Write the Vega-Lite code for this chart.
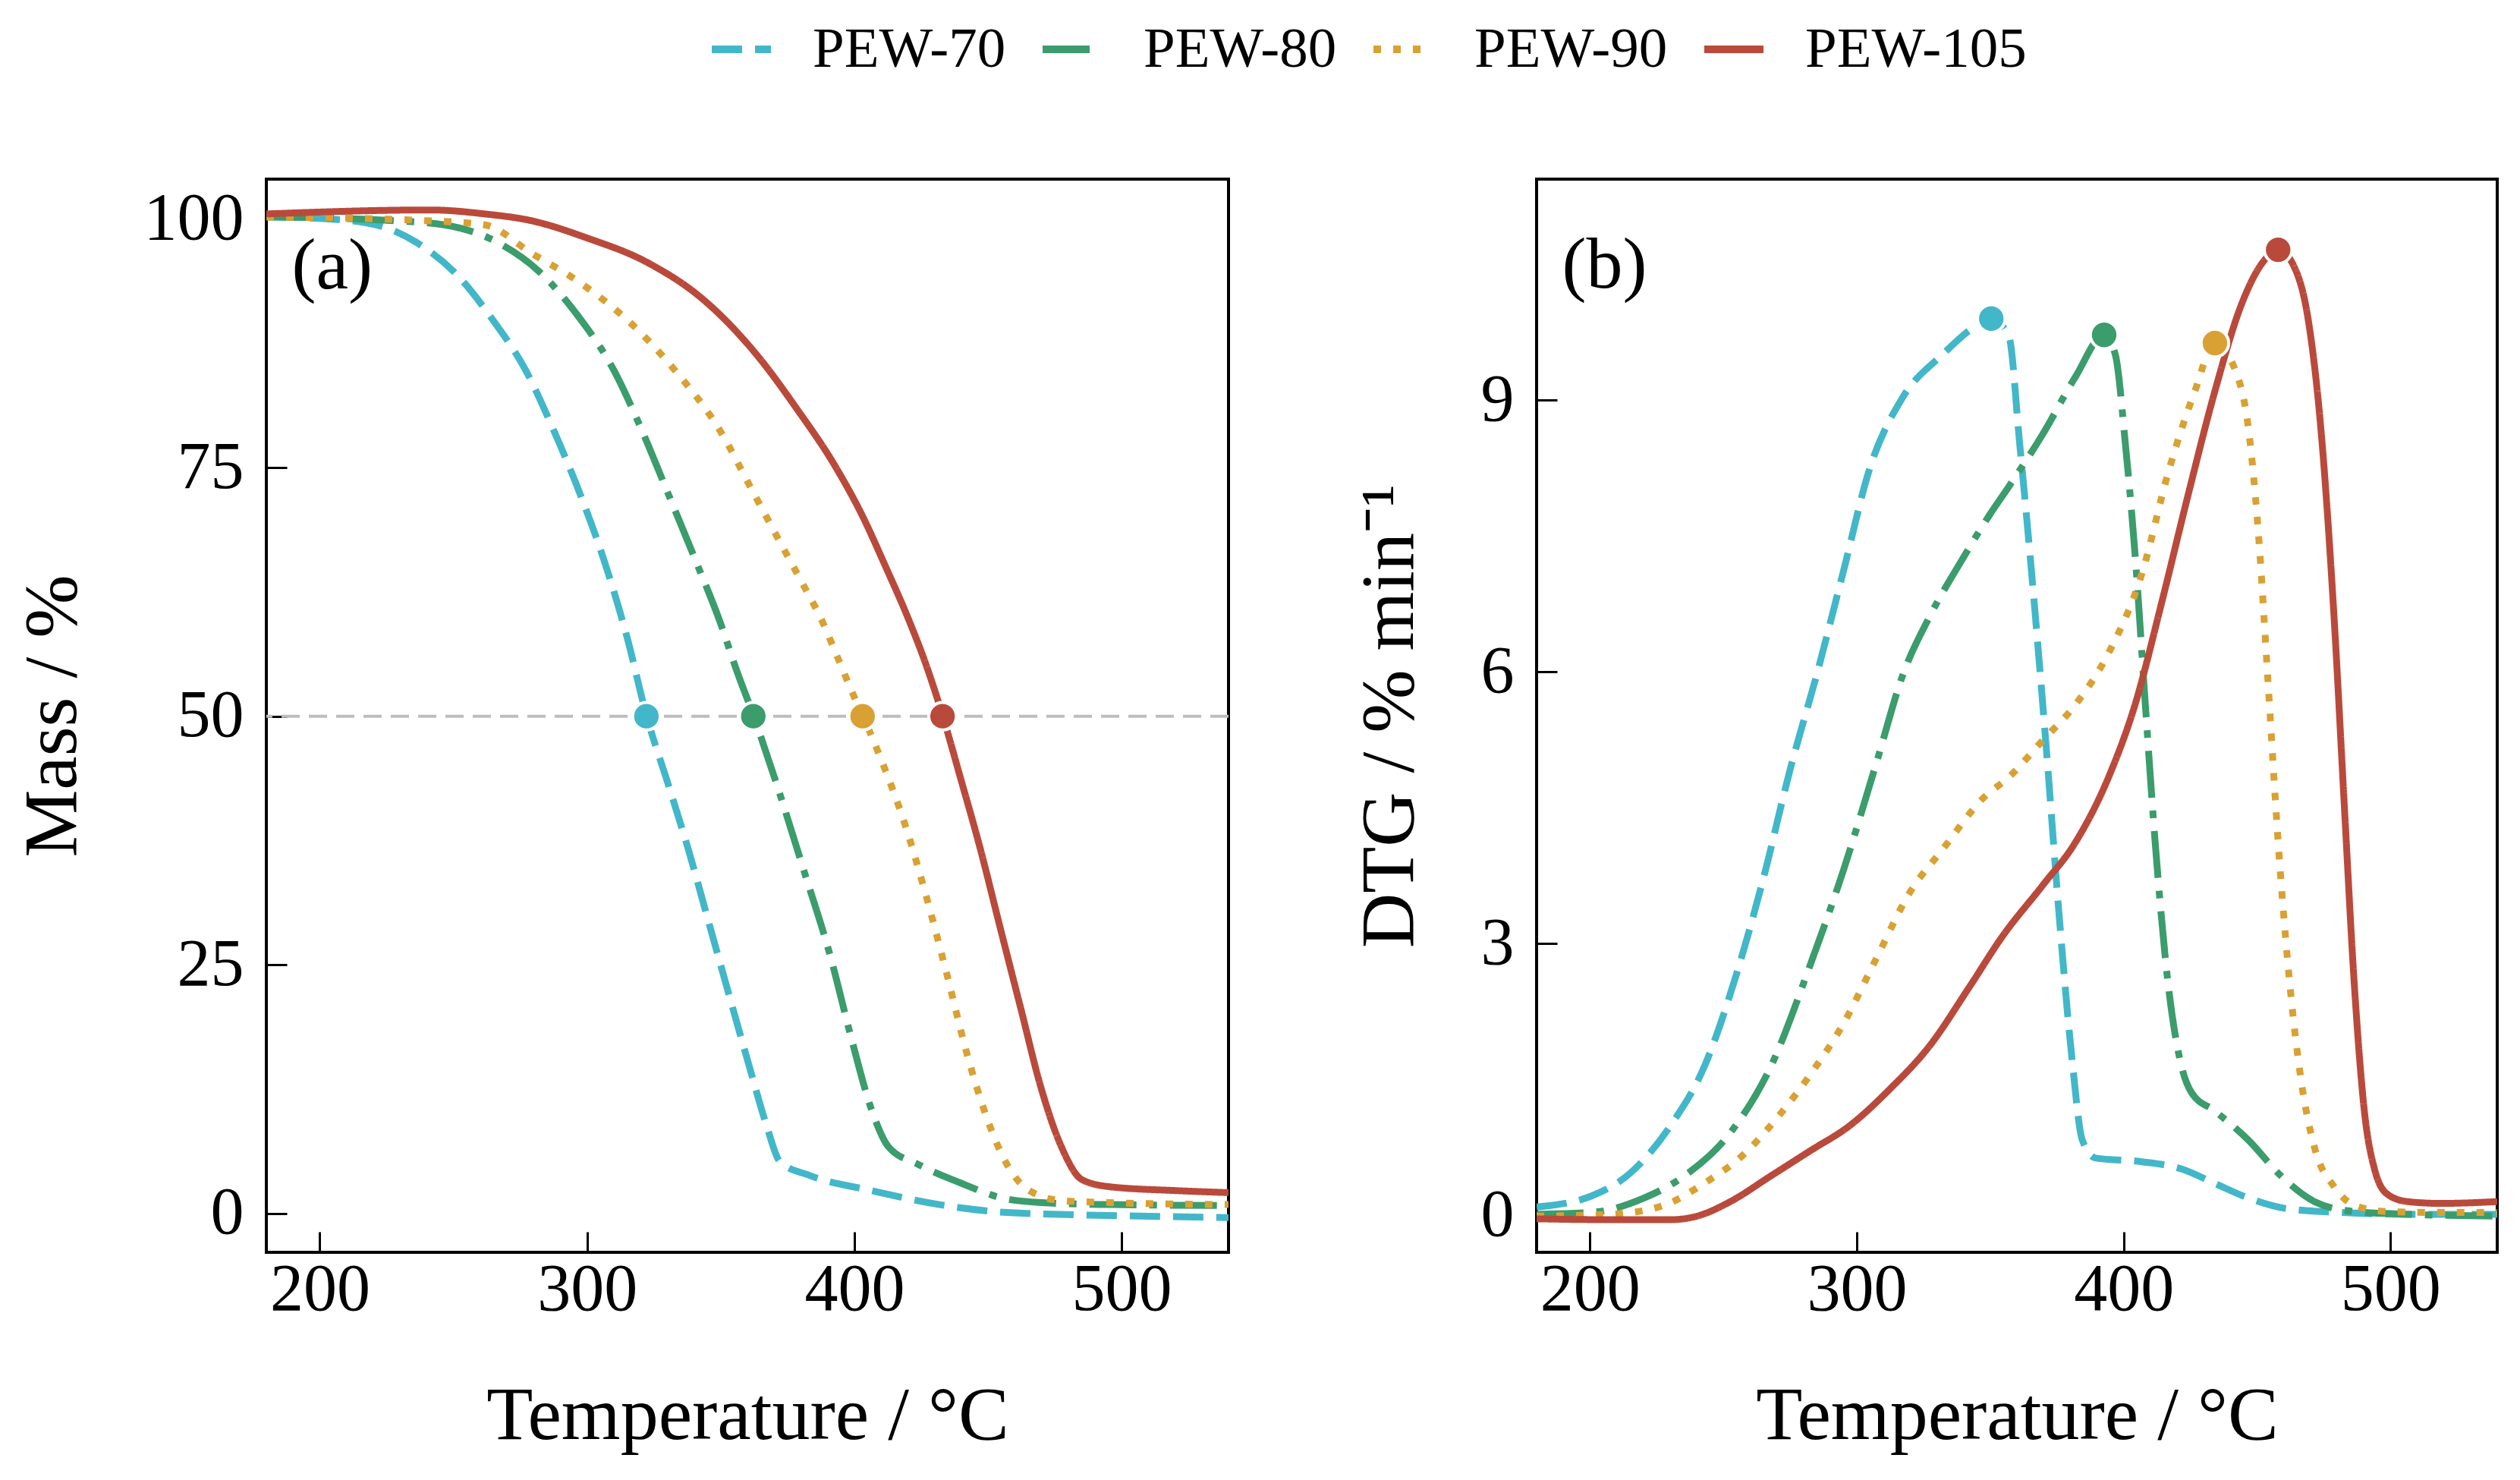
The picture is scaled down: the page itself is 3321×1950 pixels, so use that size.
{
  "$schema": "https://vega.github.io/schema/vega-lite/v6.json",
  "background": "white",
  "padding": {"left": 17, "top": 21, "right": 29, "bottom": 20},
  "config": {
    "font": "Liberation Serif",
    "view": {"stroke": "black", "strokeWidth": 4},
    "axis": {
      "labelFont": "Liberation Serif",
      "titleFont": "Liberation Serif",
      "labelFontSize": 88,
      "titleFontSize": 100,
      "titleFontWeight": "normal",
      "labelColor": "black",
      "titleColor": "black",
      "domain": false,
      "grid": false,
      "tickColor": "black",
      "tickWidth": 3,
      "tickSize": -27,
      "labelFlush": false,
      "labelOverlap": false,
      "format": "d"
    },
    "axisX": {"labelPadding": 32, "titlePadding": 73},
    "axisY": {"labelPadding": 57, "titlePadding": 69},
    "text": {"font": "Liberation Serif"}
  },
  "datasets": {
    "tga": [
      {"sample": "PEW-70", "T": 180, "m": 100.2}, {"sample": "PEW-70", "T": 203.4, "m": 100}, {"sample": "PEW-70", "T": 221.1, "m": 99.4},
      {"sample": "PEW-70", "T": 236.4, "m": 97.6}, {"sample": "PEW-70", "T": 251.6, "m": 94.3}, {"sample": "PEW-70", "T": 264.3, "m": 90},
      {"sample": "PEW-70", "T": 277, "m": 84.8}, {"sample": "PEW-70", "T": 287.1, "m": 79}, {"sample": "PEW-70", "T": 297.3, "m": 72.4},
      {"sample": "PEW-70", "T": 306.2, "m": 65.8}, {"sample": "PEW-70", "T": 315.1, "m": 57.8}, {"sample": "PEW-70", "T": 322.2, "m": 50.1},
      {"sample": "PEW-70", "T": 330.3, "m": 43.2}, {"sample": "PEW-70", "T": 337.9, "m": 36.6}, {"sample": "PEW-70", "T": 345.5, "m": 29.3},
      {"sample": "PEW-70", "T": 353.1, "m": 22}, {"sample": "PEW-70", "T": 360.8, "m": 14.7}, {"sample": "PEW-70", "T": 367.1, "m": 8.9},
      {"sample": "PEW-70", "T": 372.2, "m": 5.2}, {"sample": "PEW-70", "T": 383.6, "m": 3.8}, {"sample": "PEW-70", "T": 406.5, "m": 2.3},
      {"sample": "PEW-70", "T": 431.8, "m": 0.9}, {"sample": "PEW-70", "T": 457.2, "m": 0.1}, {"sample": "PEW-70", "T": 495.3, "m": -0.2},
      {"sample": "PEW-70", "T": 540, "m": -0.4},
      {"sample": "PEW-80", "T": 180, "m": 100.2}, {"sample": "PEW-80", "T": 228.7, "m": 99.8}, {"sample": "PEW-80", "T": 246.5, "m": 99.4},
      {"sample": "PEW-80", "T": 266.8, "m": 97.6}, {"sample": "PEW-80", "T": 282.1, "m": 94.7}, {"sample": "PEW-80", "T": 297.3, "m": 90},
      {"sample": "PEW-80", "T": 310, "m": 84.8}, {"sample": "PEW-80", "T": 320.1, "m": 79}, {"sample": "PEW-80", "T": 330.3, "m": 72.4},
      {"sample": "PEW-80", "T": 340.4, "m": 65.8}, {"sample": "PEW-80", "T": 350, "m": 59.3}, {"sample": "PEW-80", "T": 355.7, "m": 54.8},
      {"sample": "PEW-80", "T": 362.2, "m": 50.1}, {"sample": "PEW-80", "T": 370.9, "m": 43.2}, {"sample": "PEW-80", "T": 381.1, "m": 34.5},
      {"sample": "PEW-80", "T": 391.2, "m": 25.7}, {"sample": "PEW-80", "T": 398.8, "m": 17.7}, {"sample": "PEW-80", "T": 406.5, "m": 10.4},
      {"sample": "PEW-80", "T": 412.8, "m": 6.7}, {"sample": "PEW-80", "T": 424.2, "m": 4.9}, {"sample": "PEW-80", "T": 439.5, "m": 3.1},
      {"sample": "PEW-80", "T": 454.7, "m": 1.6}, {"sample": "PEW-80", "T": 469.9, "m": 1.1}, {"sample": "PEW-80", "T": 495.3, "m": 0.9},
      {"sample": "PEW-80", "T": 540, "m": 0.8},
      {"sample": "PEW-90", "T": 180, "m": 100.2}, {"sample": "PEW-90", "T": 241.4, "m": 99.8}, {"sample": "PEW-90", "T": 261.7, "m": 99.4},
      {"sample": "PEW-90", "T": 279.5, "m": 96.5}, {"sample": "PEW-90", "T": 297.3, "m": 93.6}, {"sample": "PEW-90", "T": 317.6, "m": 89.2},
      {"sample": "PEW-90", "T": 332.8, "m": 84.8}, {"sample": "PEW-90", "T": 350, "m": 78.6}, {"sample": "PEW-90", "T": 361.4, "m": 72.9},
      {"sample": "PEW-90", "T": 372.8, "m": 67.2}, {"sample": "PEW-90", "T": 380.3, "m": 63.5}, {"sample": "PEW-90", "T": 387.9, "m": 59.6},
      {"sample": "PEW-90", "T": 393.6, "m": 56.0}, {"sample": "PEW-90", "T": 400.2, "m": 51.8}, {"sample": "PEW-90", "T": 403.1, "m": 50.1},
      {"sample": "PEW-90", "T": 409.8, "m": 45.8}, {"sample": "PEW-90", "T": 419.1, "m": 39.0},
      {"sample": "PEW-90", "T": 426.8, "m": 32.0}, {"sample": "PEW-90", "T": 434.4, "m": 24.3}, {"sample": "PEW-90", "T": 442, "m": 16.2},
      {"sample": "PEW-90", "T": 449.6, "m": 9.6}, {"sample": "PEW-90", "T": 457.2, "m": 4.9}, {"sample": "PEW-90", "T": 464.9, "m": 2.4},
      {"sample": "PEW-90", "T": 477.5, "m": 1.3}, {"sample": "PEW-90", "T": 495.3, "m": 1.1}, {"sample": "PEW-90", "T": 540, "m": 0.9},
      {"sample": "PEW-105", "T": 180, "m": 100.5}, {"sample": "PEW-105", "T": 241.4, "m": 100.9}, {"sample": "PEW-105", "T": 261.7, "m": 100.5},
      {"sample": "PEW-105", "T": 279.5, "m": 99.8}, {"sample": "PEW-105", "T": 299.8, "m": 98.1}, {"sample": "PEW-105", "T": 322.7, "m": 95.6},
      {"sample": "PEW-105", "T": 343, "m": 92.0}, {"sample": "PEW-105", "T": 364.2, "m": 86.1},
      {"sample": "PEW-105", "T": 378.5, "m": 80.9}, {"sample": "PEW-105", "T": 392.7, "m": 75.2}, {"sample": "PEW-105", "T": 403.1, "m": 70.1},
      {"sample": "PEW-105", "T": 411.6, "m": 65.1}, {"sample": "PEW-105", "T": 420.2, "m": 59.8}, {"sample": "PEW-105", "T": 426.8, "m": 55.2},
      {"sample": "PEW-105", "T": 433, "m": 50.1}, {"sample": "PEW-105", "T": 439.5, "m": 44},
      {"sample": "PEW-105", "T": 447.1, "m": 36.7}, {"sample": "PEW-105", "T": 454.7, "m": 28.6}, {"sample": "PEW-105", "T": 462.3, "m": 20.6},
      {"sample": "PEW-105", "T": 469.9, "m": 12.6}, {"sample": "PEW-105", "T": 477.5, "m": 6.7}, {"sample": "PEW-105", "T": 485.2, "m": 3.4},
      {"sample": "PEW-105", "T": 495.3, "m": 2.7}, {"sample": "PEW-105", "T": 520.7, "m": 2.3}, {"sample": "PEW-105", "T": 540, "m": 2.1}
    ],
    "dtg": [
      {"sample": "PEW-70", "T": 180, "d": 0.09}, {"sample": "PEW-70", "T": 200.4, "d": 0.21}, {"sample": "PEW-70", "T": 215.3, "d": 0.47},
      {"sample": "PEW-70", "T": 230.2, "d": 0.99}, {"sample": "PEW-70", "T": 242.7, "d": 1.63}, {"sample": "PEW-70", "T": 255.1, "d": 2.68},
      {"sample": "PEW-70", "T": 265, "d": 3.72}, {"sample": "PEW-70", "T": 275, "d": 4.92}, {"sample": "PEW-70", "T": 285, "d": 5.97},
      {"sample": "PEW-70", "T": 294.9, "d": 7.1}, {"sample": "PEW-70", "T": 304.9, "d": 8.25}, {"sample": "PEW-70", "T": 317, "d": 9.02},
      {"sample": "PEW-70", "T": 332, "d": 9.5}, {"sample": "PEW-70", "T": 344.7, "d": 9.82}, {"sample": "PEW-70", "T": 350.4, "d": 9.9},
      {"sample": "PEW-70", "T": 357, "d": 9.7}, {"sample": "PEW-70", "T": 361, "d": 8.53}, {"sample": "PEW-70", "T": 366, "d": 6.93},
      {"sample": "PEW-70", "T": 371, "d": 5.16}, {"sample": "PEW-70", "T": 375.8, "d": 3.32}, {"sample": "PEW-70", "T": 380.7, "d": 1.71},
      {"sample": "PEW-70", "T": 384.5, "d": 0.83}, {"sample": "PEW-70", "T": 389.5, "d": 0.63}, {"sample": "PEW-70", "T": 406.9, "d": 0.59},
      {"sample": "PEW-70", "T": 421.8, "d": 0.51}, {"sample": "PEW-70", "T": 434.2, "d": 0.35}, {"sample": "PEW-70", "T": 446.7, "d": 0.19},
      {"sample": "PEW-70", "T": 461.6, "d": 0.07}, {"sample": "PEW-70", "T": 481.5, "d": 0.03}, {"sample": "PEW-70", "T": 506.4, "d": 0.01},
      {"sample": "PEW-70", "T": 540, "d": 0.01},
      {"sample": "PEW-80", "T": 180, "d": 0.01}, {"sample": "PEW-80", "T": 200.4, "d": 0.03}, {"sample": "PEW-80", "T": 220.3, "d": 0.19},
      {"sample": "PEW-80", "T": 235.2, "d": 0.43}, {"sample": "PEW-80", "T": 252.6, "d": 0.91}, {"sample": "PEW-80", "T": 267.6, "d": 1.63},
      {"sample": "PEW-80", "T": 282.5, "d": 2.76}, {"sample": "PEW-80", "T": 294.9, "d": 3.8}, {"sample": "PEW-80", "T": 307.4, "d": 5.0},
      {"sample": "PEW-80", "T": 317.3, "d": 5.97}, {"sample": "PEW-80", "T": 327.3, "d": 6.61}, {"sample": "PEW-80", "T": 339.7, "d": 7.25},
      {"sample": "PEW-80", "T": 349.7, "d": 7.73}, {"sample": "PEW-80", "T": 357.1, "d": 8.05}, {"sample": "PEW-80", "T": 369.6, "d": 8.62},
      {"sample": "PEW-80", "T": 382, "d": 9.26}, {"sample": "PEW-80", "T": 392.7, "d": 9.72}, {"sample": "PEW-80", "T": 396.9, "d": 9.5},
      {"sample": "PEW-80", "T": 400.6, "d": 8.53}, {"sample": "PEW-80", "T": 404.4, "d": 7.25}, {"sample": "PEW-80", "T": 408.1, "d": 5.65},
      {"sample": "PEW-80", "T": 411.8, "d": 4.12}, {"sample": "PEW-80", "T": 416.8, "d": 2.52}, {"sample": "PEW-80", "T": 421.8, "d": 1.63},
      {"sample": "PEW-80", "T": 425.5, "d": 1.35}, {"sample": "PEW-80", "T": 434.2, "d": 1.15}, {"sample": "PEW-80", "T": 446.7, "d": 0.83},
      {"sample": "PEW-80", "T": 459.1, "d": 0.43}, {"sample": "PEW-80", "T": 471.5, "d": 0.15}, {"sample": "PEW-80", "T": 486.5, "d": 0.04},
      {"sample": "PEW-80", "T": 506.4, "d": 0.01}, {"sample": "PEW-80", "T": 540, "d": -0.01},
      {"sample": "PEW-90", "T": 180, "d": -0.01}, {"sample": "PEW-90", "T": 207.9, "d": 0.01}, {"sample": "PEW-90", "T": 227.8, "d": 0.11},
      {"sample": "PEW-90", "T": 242.7, "d": 0.35}, {"sample": "PEW-90", "T": 257.6, "d": 0.67}, {"sample": "PEW-90", "T": 270, "d": 1.07},
      {"sample": "PEW-90", "T": 282.5, "d": 1.55}, {"sample": "PEW-90", "T": 294.9, "d": 2.11}, {"sample": "PEW-90", "T": 307.4, "d": 2.84},
      {"sample": "PEW-90", "T": 319.8, "d": 3.56}, {"sample": "PEW-90", "T": 332.2, "d": 4.04}, {"sample": "PEW-90", "T": 347.2, "d": 4.6},
      {"sample": "PEW-90", "T": 357.1, "d": 4.84}, {"sample": "PEW-90", "T": 369.6, "d": 5.24}, {"sample": "PEW-90", "T": 382, "d": 5.64},
      {"sample": "PEW-90", "T": 394.4, "d": 6.21}, {"sample": "PEW-90", "T": 406.9, "d": 7.09}, {"sample": "PEW-90", "T": 416.8, "d": 8.21},
      {"sample": "PEW-90", "T": 426.7, "d": 9.1}, {"sample": "PEW-90", "T": 434.2, "d": 9.63}, {"sample": "PEW-90", "T": 441.7, "d": 9.34},
      {"sample": "PEW-90", "T": 446.7, "d": 8.7}, {"sample": "PEW-90", "T": 450.4, "d": 7.57}, {"sample": "PEW-90", "T": 454.1, "d": 5.89},
      {"sample": "PEW-90", "T": 457.9, "d": 4.12}, {"sample": "PEW-90", "T": 461.6, "d": 2.76}, {"sample": "PEW-90", "T": 466.6, "d": 1.47},
      {"sample": "PEW-90", "T": 471.5, "d": 0.75}, {"sample": "PEW-90", "T": 479, "d": 0.31}, {"sample": "PEW-90", "T": 486.5, "d": 0.11},
      {"sample": "PEW-90", "T": 498.9, "d": 0.04}, {"sample": "PEW-90", "T": 518.8, "d": 0.03}, {"sample": "PEW-90", "T": 540, "d": 0.03},
      {"sample": "PEW-105", "T": 180, "d": -0.04}, {"sample": "PEW-105", "T": 207.9, "d": -0.05}, {"sample": "PEW-105", "T": 230.2, "d": -0.05},
      {"sample": "PEW-105", "T": 240.2, "d": -0.01}, {"sample": "PEW-105", "T": 252.6, "d": 0.15}, {"sample": "PEW-105", "T": 267.6, "d": 0.43},
      {"sample": "PEW-105", "T": 282.5, "d": 0.71}, {"sample": "PEW-105", "T": 297.4, "d": 0.99}, {"sample": "PEW-105", "T": 312.3, "d": 1.39},
      {"sample": "PEW-105", "T": 327.3, "d": 1.87}, {"sample": "PEW-105", "T": 342.2, "d": 2.52}, {"sample": "PEW-105", "T": 354.6, "d": 3.08},
      {"sample": "PEW-105", "T": 369.6, "d": 3.64}, {"sample": "PEW-105", "T": 382, "d": 4.12}, {"sample": "PEW-105", "T": 394.4, "d": 4.84},
      {"sample": "PEW-105", "T": 404.4, "d": 5.65}, {"sample": "PEW-105", "T": 414.3, "d": 6.77}, {"sample": "PEW-105", "T": 424.3, "d": 7.97},
      {"sample": "PEW-105", "T": 434.2, "d": 9.1}, {"sample": "PEW-105", "T": 444.2, "d": 10.06}, {"sample": "PEW-105", "T": 451.6, "d": 10.5},
      {"sample": "PEW-105", "T": 457.9, "d": 10.66}, {"sample": "PEW-105", "T": 464.1, "d": 10.46}, {"sample": "PEW-105", "T": 469.1, "d": 9.9},
      {"sample": "PEW-105", "T": 474.1, "d": 8.62}, {"sample": "PEW-105", "T": 479, "d": 6.53}, {"sample": "PEW-105", "T": 482.7, "d": 4.52},
      {"sample": "PEW-105", "T": 486.5, "d": 2.52}, {"sample": "PEW-105", "T": 490.2, "d": 1.15}, {"sample": "PEW-105", "T": 494, "d": 0.51},
      {"sample": "PEW-105", "T": 498.9, "d": 0.23}, {"sample": "PEW-105", "T": 506.4, "d": 0.15}, {"sample": "PEW-105", "T": 518.8, "d": 0.13},
      {"sample": "PEW-105", "T": 540, "d": 0.15}
    ],
    "t50": [
      {"sample": "PEW-70", "T": 322.2, "m": 50},
      {"sample": "PEW-80", "T": 362.2, "m": 50},
      {"sample": "PEW-90", "T": 403.1, "m": 50},
      {"sample": "PEW-105", "T": 433, "m": 50}
    ],
    "peaks": [
      {"sample": "PEW-70", "T": 350.4, "d": 9.9},
      {"sample": "PEW-80", "T": 392.7, "d": 9.72},
      {"sample": "PEW-90", "T": 434.2, "d": 9.63},
      {"sample": "PEW-105", "T": 457.9, "d": 10.66}
    ]
  },
  "spacing": 406,
  "bounds": "flush",
  "hconcat": [
    {
      "width": 1268,
      "height": 1414,
      "layer": [
        {
          "data": {"values": [{"m": 50}]},
          "mark": {"type": "rule", "color": "#bdbdbd", "strokeWidth": 4, "strokeDash": [24, 12]},
          "encoding": {"y": {"field": "m", "type": "quantitative"}}
        },
        {
          "data": {"name": "tga"},
          "mark": {"type": "line", "strokeWidth": 9, "interpolate": "monotone", "clip": true},
          "encoding": {
            "x": {"field": "T", "type": "quantitative", "scale": {"domain": [180, 540], "nice": false, "zero": false},
                  "axis": {"values": [200, 300, 400, 500], "title": "Temperature / °C"}},
            "y": {"field": "m", "type": "quantitative", "scale": {"domain": [-3.9, 104], "nice": false, "zero": false},
                  "axis": {"values": [0, 25, 50, 75, 100], "title": "Mass / %"}},
            "stroke": {"field": "sample", "type": "nominal",
              "scale": {"domain": ["PEW-70", "PEW-80", "PEW-90", "PEW-105"], "range": ["#42b7c9", "#3b9c6c", "#d9a133", "#b94a3b"]},
              "legend": {"orient": "none", "legendX": 582, "legendY": -215, "direction": "horizontal", "title": null,
                "symbolType": "stroke", "symbolSize": 6084, "symbolStrokeWidth": 10, "labelFontSize": 75, "labelLimit": 1000,
                "labelFont": "Liberation Serif", "labelColor": "black", "labelOffset": 50, "columnPadding": 28, "padding": 0}},
            "strokeDash": {"field": "sample", "type": "nominal",
              "scale": {"domain": ["PEW-70", "PEW-80", "PEW-90", "PEW-105"], "range": [[40, 17], [62, 17, 10, 17], [10, 16], [1, 0]]},
              "legend": {"orient": "none", "legendX": 582, "legendY": -215, "direction": "horizontal", "title": null,
                "symbolType": "stroke", "symbolSize": 6084, "symbolStrokeWidth": 10, "labelFontSize": 75, "labelLimit": 1000,
                "labelFont": "Liberation Serif", "labelColor": "black", "labelOffset": 50, "columnPadding": 28, "padding": 0}}
          }
        },
        {
          "data": {"name": "t50"},
          "mark": {"type": "point", "shape": "circle", "filled": true, "size": 1320, "opacity": 1, "stroke": "white", "strokeWidth": 4},
          "encoding": {
            "x": {"field": "T", "type": "quantitative"},
            "y": {"field": "m", "type": "quantitative"},
            "fill": {"field": "sample", "type": "nominal",
              "scale": {"domain": ["PEW-70", "PEW-80", "PEW-90", "PEW-105"], "range": ["#42b7c9", "#3b9c6c", "#d9a133", "#b94a3b"]},
              "legend": null}
          }
        },
        {
          "data": {"values": [{"T": 189.5, "m": 93.0, "label": "(a)"}]},
          "mark": {"type": "text", "align": "left", "baseline": "alphabetic", "fontSize": 96, "color": "black"},
          "encoding": {
            "x": {"field": "T", "type": "quantitative"},
            "y": {"field": "m", "type": "quantitative"},
            "text": {"field": "label"}
          }
        }
      ]
    },
    {
      "width": 1266,
      "height": 1414,
      "layer": [
        {
          "data": {"name": "dtg"},
          "mark": {"type": "line", "strokeWidth": 9, "interpolate": "monotone", "clip": true},
          "encoding": {
            "x": {"field": "T", "type": "quantitative", "scale": {"domain": [180, 540], "nice": false, "zero": false},
                  "axis": {"values": [200, 300, 400, 500], "title": "Temperature / °C"}},
            "y": {"field": "d", "type": "quantitative", "scale": {"domain": [-0.41, 11.44], "nice": false, "zero": false},
                  "axis": {"values": [0, 3, 6, 9], "title": "DTG / % min⁻¹"}},
            "stroke": {"field": "sample", "type": "nominal",
              "scale": {"domain": ["PEW-70", "PEW-80", "PEW-90", "PEW-105"], "range": ["#42b7c9", "#3b9c6c", "#d9a133", "#b94a3b"]},
              "legend": null},
            "strokeDash": {"field": "sample", "type": "nominal",
              "scale": {"domain": ["PEW-70", "PEW-80", "PEW-90", "PEW-105"], "range": [[40, 17], [62, 17, 10, 17], [10, 16], [1, 0]]},
              "legend": null}
          }
        },
        {
          "data": {"name": "peaks"},
          "mark": {"type": "point", "shape": "circle", "filled": true, "size": 1320, "opacity": 1, "stroke": "white", "strokeWidth": 4},
          "encoding": {
            "x": {"field": "T", "type": "quantitative"},
            "y": {"field": "d", "type": "quantitative"},
            "fill": {"field": "sample", "type": "nominal",
              "scale": {"domain": ["PEW-70", "PEW-80", "PEW-90", "PEW-105"], "range": ["#42b7c9", "#3b9c6c", "#d9a133", "#b94a3b"]},
              "legend": null}
          }
        },
        {
          "data": {"values": [{"T": 189.5, "d": 10.24, "label": "(b)"}]},
          "mark": {"type": "text", "align": "left", "baseline": "alphabetic", "fontSize": 96, "color": "black"},
          "encoding": {
            "x": {"field": "T", "type": "quantitative"},
            "y": {"field": "d", "type": "quantitative"},
            "text": {"field": "label"}
          }
        }
      ]
    }
  ]
}
